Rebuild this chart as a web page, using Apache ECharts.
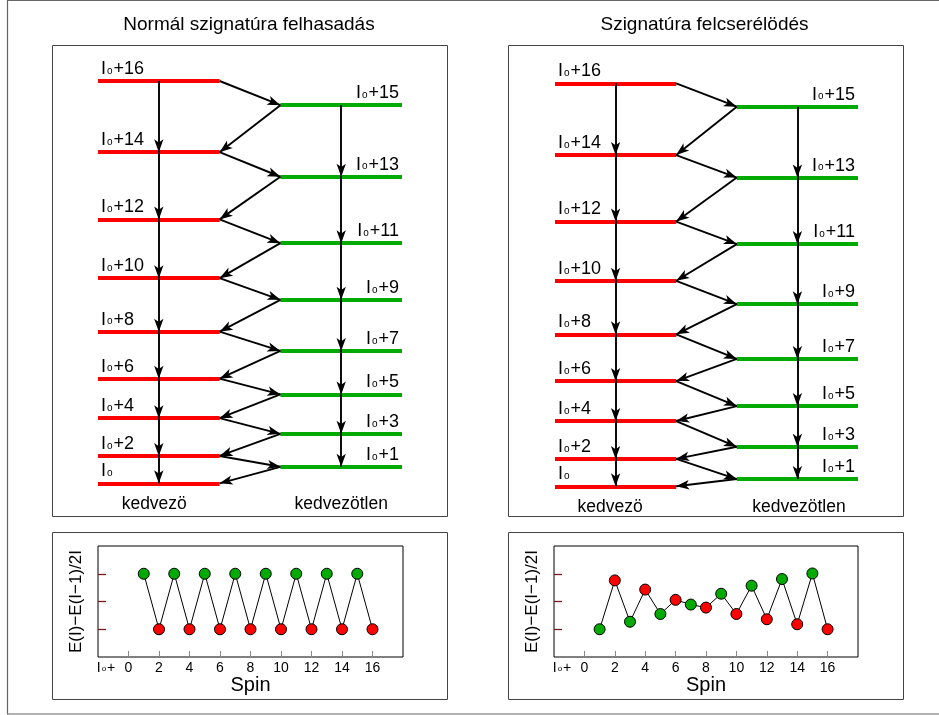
<!DOCTYPE html>
<html><head><meta charset="utf-8">
<script src="https://cdn.jsdelivr.net/npm/echarts@6/dist/echarts.min.js"></script>
<style>html,body{margin:0;padding:0;background:#fff}#c{width:939px;height:715px}</style>
</head><body><div id="c"></div>
<script>
// ---------- data ----------
const titles = ['Normál szignatúra felhasadás', 'Szignatúra felcserélödés'];
const columnNames = ['kedvezö', 'kedvezötlen'];
const spins = [0,1,2,3,4,5,6,7,8,9,10,11,12,13,14,15,16];
// level energies (arbitrary units), index = spin offset from I0
const normalEnergy   = [0, 4.1, 6.8, 12.3, 16.2, 22.1, 26.0, 32.9, 37.7, 45.6, 51.0, 59.7, 65.6, 76.2, 82.3, 94.0, 100];
const invertedEnergy = [0, 1.8, 6.8,  9.8, 16.2, 19.9, 26.1, 31.6, 37.7, 45.2, 51.0, 60.1, 65.7, 76.6, 82.2, 94.2, 100];
// E(I)-E(I-1)/2I for spins 1..16
const diffSpins      = [1,2,3,4,5,6,7,8,9,10,11,12,13,14,15,16];
const normalDiff     = [3,1,3,1,3,1,3,1,3,1,3,1,3,1,3,1];
const invertedDiff   = [1.0,2.76,1.27,2.43,1.55,2.06,1.89,1.78,2.28,1.55,2.57,1.36,2.81,1.18,3.01,1.0];
const spinTicks = [0,2,4,6,8,10,12,14,16];
const diffTicks = [1,2,3];
const yName = 'E(I)\u2212E(I\u22121)/2I';
const xName = 'Spin';

// ---------- style / layout ----------
const FONT = '"Liberation Sans", Arial, Helvetica, sans-serif';
const RED = '#ff0000', GREEN = '#00aa00';
const COL = {redX0: 0, redX1: 4, redMid: 2, greenX0: 6, greenX1: 10, greenMid: 8};
const panels = [
  {energy: normalEnergy, diff: normalDiff, title: titles[0], titleX: 249,
   levelGrid: {left: 98, top: 81, width: 304, height: 402.3},
   plotGrid: {left: 98, top: 546, width: 305, height: 111},
   colLabelX: [1.85, 8.0], box: [52.5, 45.5, 395, 471], box2: [52.5, 532.5, 395, 167]},
  {energy: invertedEnergy, diff: invertedDiff, title: titles[1], titleX: 704.5,
   levelGrid: {left: 555, top: 83.3, width: 303, height: 403},
   plotGrid: {left: 554, top: 546, width: 304, height: 111},
   colLabelX: [1.82, 8.05], box: [508.5, 45.5, 395, 471], box2: [508.5, 532.5, 395, 167]}
];

const levelRich = {
  i: {fontSize: 18, fontFamily: FONT, color: '#000'},
  o: {fontSize: 10, fontFamily: FONT, color: '#000', verticalAlign: 'bottom', padding: [0, 1, 2, 1]},
  p: {fontSize: 18, fontFamily: FONT, color: '#000'}
};
function levelLabel(s) { return s === 0 ? '{i|I}{o|o}' : '{i|I}{o|o}{p|+' + s + '}'; }

const grid = [], xAxis = [], yAxis = [], series = [], graphic = [];
graphic.push({type: 'rect', shape: {x: 7.5, y: 0.5, width: 960, height: 713.5},
  style: {fill: 'none', stroke: '#666', lineWidth: 1.2}, silent: true});

panels.forEach((P, k) => {
  graphic.push({type: 'text', x: P.titleX, y: 25, style: {text: P.title, align: 'center', verticalAlign: 'middle',
    font: '19px ' + FONT, fill: '#000'}});
  [P.box, P.box2].forEach(b => graphic.push({type: 'rect', shape: {x: b[0], y: b[1], width: b[2], height: b[3]},
    style: {fill: 'none', stroke: '#444', lineWidth: 1}, silent: true}));

  // level diagram grid
  const gL = grid.length;
  grid.push(Object.assign({containLabel: false}, P.levelGrid));
  xAxis.push({gridIndex: gL, type: 'value', min: 0, max: 10,
    axisLine: {show: false, onZero: false}, axisTick: {show: false}, splitLine: {show: false},
    axisLabel: {customValues: P.colLabelX, formatter: v => (v < 5 ? columnNames[0] : columnNames[1]),
      margin: 12, fontSize: 17.5, fontFamily: FONT, color: '#000'}});
  yAxis.push({gridIndex: gL, type: 'value', min: 0, max: 100, show: false, axisLine: {onZero: false}});

  const red = [], green = [];
  spins.forEach(s => {
    const E = P.energy[s];
    if (s % 2 === 0) red.push({name: String(s), coords: [[COL.redX0, E], [COL.redX1, E]]});
    else green.push({name: String(s), coords: [[COL.greenX0, E], [COL.greenX1, E]]});
  });
  const lvl = (data, color, pos) => ({
    type: 'lines', coordinateSystem: 'cartesian2d', xAxisIndex: gL, yAxisIndex: gL, z: 2, clip: false,
    lineStyle: {color: color, width: 4, opacity: 1, curveness: 0}, symbol: 'none', data: data,
    label: {show: true, position: pos, distance: 3, formatter: p => levelLabel(+p.name), rich: levelRich}
  });
  series.push(lvl(red, RED, 'insideStartTop'));
  series.push(lvl(green, GREEN, 'insideEndTop'));

  const arrows = [];
  spins.forEach(s => {
    if (s >= 2) {
      const x = s % 2 === 0 ? COL.redMid : COL.greenMid;
      arrows.push({coords: [[x, P.energy[s]], [x, P.energy[s - 2]]]});
    }
    if (s >= 1) {
      const xFrom = s % 2 === 0 ? COL.redX1 : COL.greenX0;
      const xTo = (s - 1) % 2 === 0 ? COL.redX1 : COL.greenX0;
      arrows.push({coords: [[xFrom, P.energy[s]], [xTo, P.energy[s - 1]]]});
    }
  });
  series.push({type: 'lines', coordinateSystem: 'cartesian2d', xAxisIndex: gL, yAxisIndex: gL, z: 3, clip: false,
    lineStyle: {color: '#000', width: 1.9, opacity: 1}, symbol: ['none', 'arrow'],
    symbolSize: [[7, 13], [7, 13]], symbolOffset: [[0, 0], [0, 6]], data: arrows});

  // E(I)-E(I-1)/2I plot
  const gP = grid.length;
  grid.push(Object.assign({show: true, borderColor: '#000', borderWidth: 1, containLabel: false}, P.plotGrid));
  xAxis.push({gridIndex: gP, type: 'value', min: -2, max: 18, interval: 2,
    axisLine: {show: false, onZero: false}, splitLine: {show: false},
    axisTick: {show: true, inside: true, length: 6, customValues: spinTicks, lineStyle: {color: '#888', width: 1}},
    axisLabel: {customValues: [-2].concat(spinTicks), margin: 4, fontSize: 14, fontFamily: FONT, color: '#000',
      formatter: v => (v === -2 ? '{f|I}{o|o}{i|+}' : String(v)),
      rich: {f: {fontSize: 14, fontFamily: FONT, padding: [0, 0, 0, 16]},
             o: {fontSize: 8, fontFamily: FONT, verticalAlign: 'bottom', padding: [0, 1, 2, 1]},
             i: {fontSize: 14, fontFamily: FONT}}},
    name: xName, nameLocation: 'middle', nameGap: 10,
    nameTextStyle: {fontSize: 20, fontFamily: FONT, color: '#000'}});
  yAxis.push({gridIndex: gP, type: 'value', min: 0, max: 4, interval: 1,
    axisLine: {show: false, onZero: false}, splitLine: {show: false}, axisLabel: {show: false},
    axisTick: {show: true, inside: true, length: 8, customValues: diffTicks, lineStyle: {color: '#7a1c1c', width: 1.3}},
    name: yName, nameLocation: 'middle', nameRotate: 90, nameGap: 13,
    nameTextStyle: {fontSize: 17, fontFamily: FONT, color: '#000'}});
  const pts = diffSpins.map((s, i) => [s, P.diff[i]]);
  series.push({type: 'line', xAxisIndex: gP, yAxisIndex: gP, data: pts, symbol: 'none', z: 2,
    lineStyle: {color: '#000', width: 1}});
  const dot = (par, color) => ({type: 'scatter', xAxisIndex: gP, yAxisIndex: gP, z: 3, symbolSize: 11,
    itemStyle: {color: color, borderColor: '#000', borderWidth: 1, opacity: 1},
    data: pts.filter(p => p[0] % 2 === par)});
  series.push(dot(0, RED));
  series.push(dot(1, GREEN));
});

const chart = echarts.init(document.getElementById('c'), null, {renderer: 'canvas'});
chart.setOption({animation: false, backgroundColor: '#fff', grid, xAxis, yAxis, series, graphic});
</script></body></html>
